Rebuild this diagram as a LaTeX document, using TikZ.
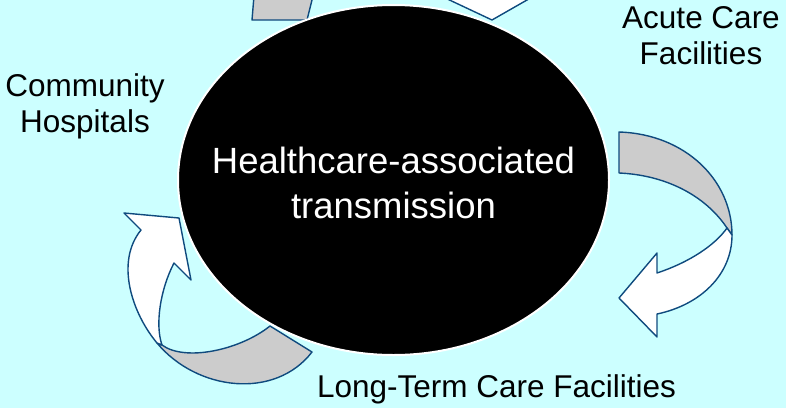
\documentclass[tikz,border=0pt]{standalone}
\usepackage{fontspec}
\setmainfont{Liberation Sans}
\definecolor{skycyan}{HTML}{CCFFFF}
\definecolor{edgeblue}{HTML}{0F4A7E}
\definecolor{backgray}{HTML}{CCCCCC}
\begin{document}
\begin{tikzpicture}[x=1pt,y=-1pt,
  band/.style={draw=edgeblue, line width=1.4pt, line join=round},
  backside/.style={band, fill=backgray},
  frontside/.style={band, fill=white},
  place/.style={text=black, font=\fontsize{31.5}{36}\selectfont, align=center, inner sep=0pt},
]
\useasboundingbox (0,0) rectangle (786,408);
\clip (0,0) rectangle (786,408);
\fill[skycyan] (0,0) rectangle (786,408);

% top arrows, mostly outside the frame
\path[backside] (254,-4) -- (252,20) -- (307,20) -- (313,-4) -- cycle;
\path[frontside] (441,-4) -- (492,20) -- (534,-4) -- cycle;

% right arrow: back of the ribbon
\path[backside] (619,132) .. controls (685,134) and (732,180) .. (732,235)
  -- (727,228) .. controls (705,195) and (665,175) .. (619,173) -- cycle;
% right arrow: front of the ribbon with its head
\path[frontside] (732,235) .. controls (732,275) and (700,305) .. (657,314)
  -- (657,337) -- (619,298) -- (657,253) -- (657,273)
  .. controls (690,262) and (715,245) .. (727,228) -- cycle;

% left arrow: back of the ribbon
\path[backside] (312,352) .. controls (275,400) and (197,391) .. (157,343)
  -- (162,345) .. controls (185,362) and (240,350) .. (270,326) -- cycle;
% left arrow: front of the ribbon with its head
\path[frontside] (157,343) .. controls (132,313) and (115,262) .. (141,230)
  -- (124,213) -- (179,218) -- (191,280) -- (174,263)
  .. controls (160,290) and (155,325) .. (162,345) -- cycle;

% central ellipse and its text
\path[fill=black, draw=white, line width=2pt] (393.5,180) ellipse [x radius=215.5, y radius=175];
\node[text=white, align=center, inner sep=0pt,
      font=\fontsize{36.5}{45}\selectfont] (hub) at (393.5,182.5)
      {Healthcare-associated\\transmission};

% settings
\node[place] (community) at (85,106) {Community\\Hospitals};
\node[place] (acute) at (701,36) {Acute Care\\Facilities};
\node[place, anchor=base] (longterm) at (496.5,397) {Long-Term Care Facilities};
\end{tikzpicture}
\end{document}
